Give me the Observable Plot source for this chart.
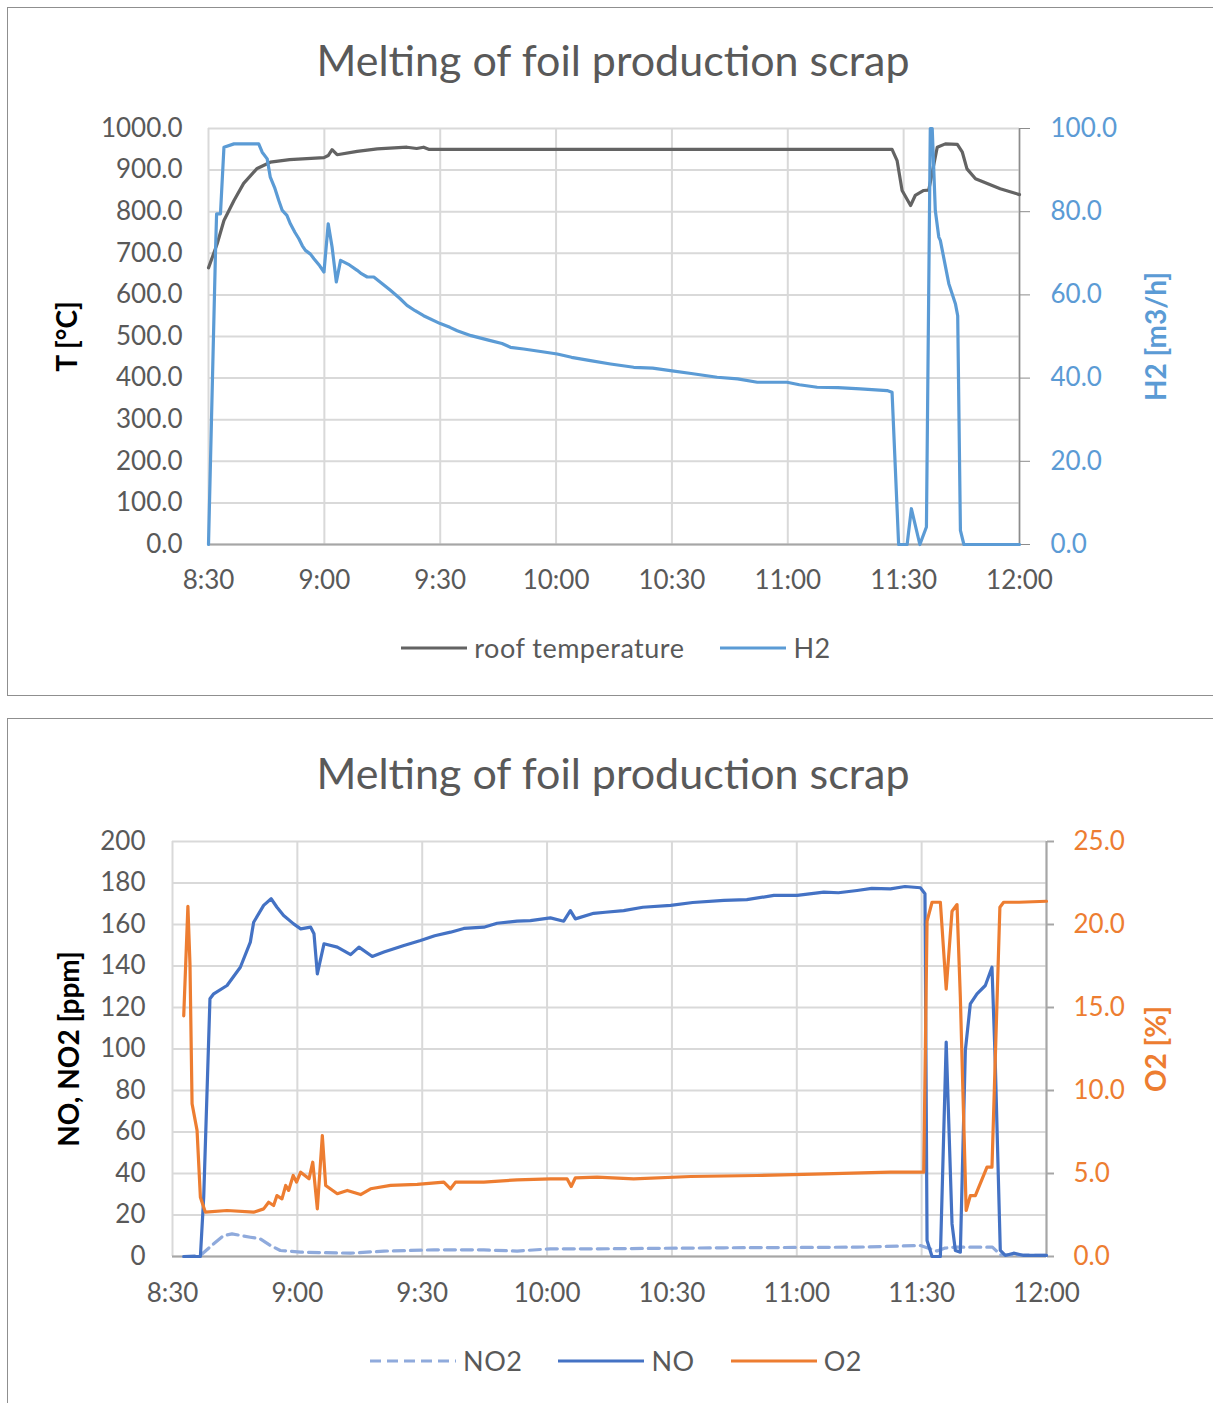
<!DOCTYPE html>
<html>
<head>
<meta charset="utf-8">
<script src="https://cdn.jsdelivr.net/npm/d3@7"></script>
<script src="https://cdn.jsdelivr.net/npm/@observablehq/plot@0.6"></script>
<style>
  html, body { margin: 0; padding: 0; background: #fff; overflow: hidden; }
  body { width: 1213px; height: 1403px; position: relative; font-family: Lato, "Open Sans", sans-serif; }
  .box { position: absolute; left: 7px; width: 1230px; border: 1px solid #8f8f8f; box-sizing: border-box; }
  .title { position: absolute; left: 0; width: 1226px; text-align: center; font-size: 43px; line-height: 43px; color: #595959; }
  .legend { position: absolute; left: 0; width: 1232px; display: flex; justify-content: center; align-items: center; font-size: 27px; line-height: 26px; letter-spacing: 0.5px; color: #595959; }
  .legend .item { display: flex; align-items: center; margin: 0 18px; }
  .legend svg { margin-right: 7px; }
  .chart { position: absolute; left: 0; }
</style>
</head>
<body>
<div class="box" style="top:7px;height:689px;"></div>
<div class="box" style="top:718px;height:700px;"></div>
<div class="title" style="top:38px;">Melting of foil production scrap</div>
<div class="title" style="top:751px;">Melting of foil production scrap</div>
<div id="chart1" class="chart" style="top:100px;"></div>
<div id="chart2" class="chart" style="top:810px;"></div>
<div id="legend1" class="legend" style="top:635px;"></div>
<div id="legend2" class="legend" style="top:1348px;"></div>
<script>
// ---------- shared x axis (minutes after 8:30) ----------
const xTicks = [0, 30, 60, 90, 120, 150, 180, 210];
const xTickLabels = ["8:30", "9:00", "9:30", "10:00", "10:30", "11:00", "11:30", "12:00"];

// ---------- chart 1: roof temperature and H2 ----------
const tempT = [0, 2.25, 4, 6.6, 9.1, 12.6, 16, 21, 29.9, 31, 32, 33.3, 38.5, 43.7, 51.4, 53.9, 55.7, 57, 120, 177, 178.3, 179.6, 181.8, 183, 185.2, 186.5, 188.7, 190.8, 193.9, 195.2, 196.4, 198.6, 205, 210];
const tempV = [665, 723, 779, 827, 868, 904, 919, 925, 930, 935, 949, 937, 945, 951, 955, 952, 955, 950, 950, 950, 923, 851, 815, 839, 851, 852, 955, 963, 962, 943, 903, 879, 855, 841];

const h2T = [0, 1.8, 2.1, 3.1, 4, 6.6, 13, 13.9, 15.2, 16, 17.2, 18.2, 19.1, 20.3, 21.2, 22.4, 23.4, 24.3, 25.1, 26.4, 27.3, 28.8, 29.9, 31, 32, 33.1, 34.2, 36.5, 38.5, 39.6, 41.1, 42.8, 45, 47.1, 49.5, 51.4, 53.5, 55.7, 60, 62.5, 64.4, 68, 73, 76, 78.2, 81.6, 86, 90.3, 94, 98.9, 104.1, 110.1, 115, 119.6, 125, 131.7, 137, 142.1, 149.8, 153, 157.6, 163, 168.8, 175.7, 177, 178.7, 180.9, 182, 184.2, 185.9, 186.9, 187.4, 188.2, 189.1, 189.5, 191.7, 193.4, 194, 194.7, 195.6, 210];
const h2V = [0, 69.9, 79.5, 79.5, 95.5, 96.3, 96.3, 94.3, 92.7, 88.3, 85.6, 82.7, 80.3, 79.1, 77.1, 75.0, 73.5, 71.8, 70.7, 69.8, 68.7, 67.0, 65.5, 77.1, 71.5, 63.1, 68.3, 67.2, 65.9, 65.1, 64.3, 64.3, 62.7, 61.1, 59.2, 57.5, 56.2, 55.0, 53.1, 52.2, 51.4, 50.2, 49.0, 48.3, 47.4, 47.0, 46.4, 45.8, 45.0, 44.2, 43.4, 42.6, 42.4, 41.8, 41.1, 40.2, 39.8, 39.0, 39.0, 38.4, 37.8, 37.7, 37.4, 37.0, 36.6, 0, 0, 8.6, 0, 4.2, 100, 100, 80.3, 73.9, 73.1, 62.7, 57.9, 55.0, 3.4, 0, 0];

const tempTicks = [0, 100, 200, 300, 400, 500, 600, 700, 800, 900, 1000];
const h2Ticks = [0, 20, 40, 60, 80, 100];

// ---------- chart 2: NO, NO2, O2 ----------
const noT = [2.7, 6.7, 7.5, 9, 9.9, 13.1, 16.3, 18.7, 19.5, 21.9, 23.7, 25.1, 26.7, 29.1, 30.8, 33.2, 34, 34.8, 36.4, 39.6, 42.8, 44.8, 48, 50.8, 55.6, 59.6, 63, 66.8, 70, 74.8, 78, 82.8, 86, 90.8, 94, 95.6, 96.8, 101.2, 104, 108.4, 113, 119.7, 125, 132.5, 138, 144.5, 150.1, 156.5, 160, 164.5, 168, 172.5, 176, 179.7, 180.8, 181.3, 182.5, 184.5, 185.9, 187.3, 188.1, 189.3, 190.5, 191.7, 193.3, 195.3, 196.9, 197.7, 198.9, 200.1, 202.1, 204.5, 210];
const noV = [0, 0, 28.6, 124.2, 126.6, 130.6, 139.4, 151.5, 161.1, 169.2, 172.4, 168.3, 164.3, 160.3, 157.9, 158.7, 155.5, 136.2, 150.7, 149.1, 145.5, 149.1, 144.6, 146.7, 149.9, 152.3, 154.6, 156.3, 158.1, 158.7, 160.6, 161.6, 161.9, 163.2, 161.6, 166.7, 162.7, 165.4, 165.9, 166.7, 168.3, 169.2, 170.6, 171.6, 172.0, 174.0, 174.0, 175.6, 175.3, 176.4, 177.4, 177.2, 178.3, 177.7, 174.8, 7.7, 0, 0, 103.3, 15.7, 2.9, 2.1, 99.3, 121.8, 126.6, 130.6, 139.4, 92.9, 2.9, 0.5, 1.6, 0.5, 0.5];

const no2T = [2.7, 6.7, 9.9, 12.3, 14.3, 18.7, 21.1, 23.5, 25.9, 30.8, 42.8, 50.8, 62.8, 74.8, 82.8, 90.8, 102.4, 132.5, 164.5, 179.7, 183.7, 185.5, 188, 197, 199, 210];
const no2V = [0, 0.5, 6.1, 10.1, 10.9, 9.3, 8.5, 5.3, 2.9, 2.1, 1.6, 2.6, 3.2, 3.2, 2.6, 3.7, 3.7, 4.2, 4.5, 5.3, 2.6, 4, 4.5, 4.5, 0.8, 0.5];

const o2T = [2.7, 3.7, 4.2, 4.7, 5.9, 6.7, 7.9, 13.1, 19.5, 21.9, 23.1, 24.3, 25.1, 26.3, 27.2, 27.9, 29, 29.8, 30.8, 32.8, 33.7, 34.8, 36, 36.8, 39.6, 42, 45.2, 47.6, 52.4, 58.8, 65.2, 66.8, 68, 74.8, 82.8, 90.8, 94.8, 95.8, 96.8, 102, 110.8, 124.5, 140.5, 156.5, 172.5, 180.5, 181.3, 182.5, 184.5, 185.9, 187.3, 188.5, 189.3, 190.7, 191.7, 192.9, 195.7, 196.9, 198.8, 199.7, 203.4, 210];
const o2V = [14.5, 21.1, 17.6, 9.2, 7.6, 3.57, 2.67, 2.77, 2.67, 2.87, 3.27, 3.07, 3.67, 3.47, 4.28, 3.98, 4.88, 4.48, 5.08, 4.68, 5.68, 2.87, 7.29, 4.28, 3.78, 3.98, 3.73, 4.08, 4.28, 4.34, 4.48, 4.08, 4.48, 4.48, 4.62, 4.68, 4.68, 4.22, 4.74, 4.78, 4.68, 4.82, 4.88, 4.98, 5.08, 5.08, 20.2, 21.34, 21.34, 16.1, 20.8, 21.2, 15.6, 2.77, 3.67, 3.67, 5.38, 5.38, 21.04, 21.34, 21.34, 21.4];

const ppmTicks = [0, 20, 40, 60, 80, 100, 120, 140, 160, 180, 200];
const o2Ticks = [0, 5, 10, 15, 20, 25];

// ---------- colours ----------
const C = { temp: "#636363", h2: "#5B9BD5", no: "#4472C4", no2: "#8FAADC", o2: "#ED7D31", grid: "#d9d9d9", text: "#595959", axis: "#a6a6a6" };

const zip = (t, v, k = 1) => t.map((x, i) => ({ t: x, v: v[i] * k }));
const fmtX = d => xTickLabels[xTicks.indexOf(d)];
const titleOpts = { rotate: -90, textAnchor: "middle", fontWeight: "bold", fontSize: 28, style: "letter-spacing:1.2px" };

// ---------- chart 1 ----------
const k1 = 1000 / 100;
const chart1 = Plot.plot({
  width: 1213, height: 520,
  marginLeft: 208, marginRight: 194, marginTop: 28, marginBottom: 76,
  style: { fontFamily: "Lato, sans-serif", fontSize: "26px", background: "transparent" },
  x: { domain: [0, 210] },
  y: { domain: [0, 1000] },
  marks: [
    Plot.gridY(tempTicks, { stroke: C.grid, strokeOpacity: 1, strokeWidth: 2 }),
    Plot.gridX(xTicks, { stroke: C.grid, strokeOpacity: 1, strokeWidth: 2 }),
    Plot.ruleY([0], { stroke: C.axis, strokeWidth: 2 }),
    Plot.ruleX([210], { stroke: "#8c8c8c", strokeWidth: 1.5 }),
    Plot.axisX(xTicks, { tickSize: 0, tickPadding: 26, tickFormat: fmtX, fill: C.text, fontSize: 26, label: null }),
    Plot.axisY(tempTicks, { anchor: "left", tickSize: 0, tickPadding: 26, tickFormat: d => d.toFixed(1), fill: C.text, fontSize: 26, label: null }),
    Plot.axisY(h2Ticks.map(d => d * k1), { anchor: "right", tickSize: 10, tickPadding: 21, stroke: "#8c8c8c", tickFormat: d => (d / k1).toFixed(1), fill: C.h2, fontSize: 26, label: null }),
    Plot.text(["T [°C]"], { ...titleOpts, frameAnchor: "left", dx: -140, fill: "#000" }),
    Plot.text(["H2 [m3/h]"], { ...titleOpts, frameAnchor: "right", dx: 138, fill: C.h2 }),
    Plot.line(zip(tempT, tempV), { x: "t", y: "v", stroke: C.temp, strokeWidth: 3.2, strokeLinejoin: "round" }),
    Plot.line(zip(h2T, h2V, k1), { x: "t", y: "v", stroke: C.h2, strokeWidth: 3.2, strokeLinejoin: "round" })
  ]
});
document.getElementById("chart1").appendChild(chart1);

// ---------- chart 2 ----------
const k2 = 200 / 25;
const chart2 = Plot.plot({
  width: 1213, height: 520,
  marginLeft: 172, marginRight: 167, marginTop: 31, marginBottom: 74,
  style: { fontFamily: "Lato, sans-serif", fontSize: "26px", background: "transparent" },
  x: { domain: [0, 210] },
  y: { domain: [0, 200] },
  marks: [
    Plot.gridY(ppmTicks, { stroke: C.grid, strokeOpacity: 1, strokeWidth: 2 }),
    Plot.gridX(xTicks, { stroke: C.grid, strokeOpacity: 1, strokeWidth: 2 }),
    Plot.ruleY([0], { stroke: C.axis, strokeWidth: 2 }),
    Plot.ruleX([210], { stroke: C.axis, strokeWidth: 2 }),
    Plot.axisX(xTicks, { tickSize: 0, tickPadding: 27, tickFormat: fmtX, fill: C.text, fontSize: 26, label: null }),
    Plot.axisY(ppmTicks, { anchor: "left", tickSize: 0, tickPadding: 27, tickFormat: d => String(d), fill: C.text, fontSize: 26, label: null }),
    Plot.axisY(o2Ticks.map(d => d * k2), { anchor: "right", tickSize: 7, tickPadding: 20, stroke: C.axis, strokeWidth: 2, tickFormat: d => (d / k2).toFixed(1), fill: C.o2, fontSize: 26, label: null }),
    Plot.text(["NO, NO2 [ppm]"], { ...titleOpts, frameAnchor: "left", dx: -102, fill: "#000" }),
    Plot.text(["O2 [%]"], { ...titleOpts, frameAnchor: "right", dx: 111, fill: C.o2 }),
    Plot.line(zip(no2T, no2V), { x: "t", y: "v", stroke: C.no2, strokeWidth: 3.2, strokeDasharray: "11,6" }),
    Plot.line(zip(noT, noV), { x: "t", y: "v", stroke: C.no, strokeWidth: 3.2, strokeLinejoin: "round" }),
    Plot.line(zip(o2T, o2V, k2), { x: "t", y: "v", stroke: C.o2, strokeWidth: 3.2, strokeLinejoin: "round" })
  ]
});
document.getElementById("chart2").appendChild(chart2);

// ---------- legends ----------
function legend(id, items) {
  const el = document.getElementById(id);
  for (const it of items) {
    const d = document.createElement("div");
    d.className = "item";
    d.innerHTML = `<svg width="${it.w}" height="10"><line x1="0" x2="${it.w}" y1="5" y2="5" stroke="${it.color}" stroke-width="3.2" ${it.dash ? `stroke-dasharray="${it.dash}"` : ""}/></svg><span>${it.label}</span>`;
    el.appendChild(d);
  }
}
legend("legend1", [
  { label: "roof temperature", color: C.temp, w: 66 },
  { label: "H2", color: C.h2, w: 66 }
]);
legend("legend2", [
  { label: "NO2", color: C.no2, w: 86, dash: "11,6" },
  { label: "NO", color: C.no, w: 86 },
  { label: "O2", color: C.o2, w: 86 }
]);
</script>
</body>
</html>
